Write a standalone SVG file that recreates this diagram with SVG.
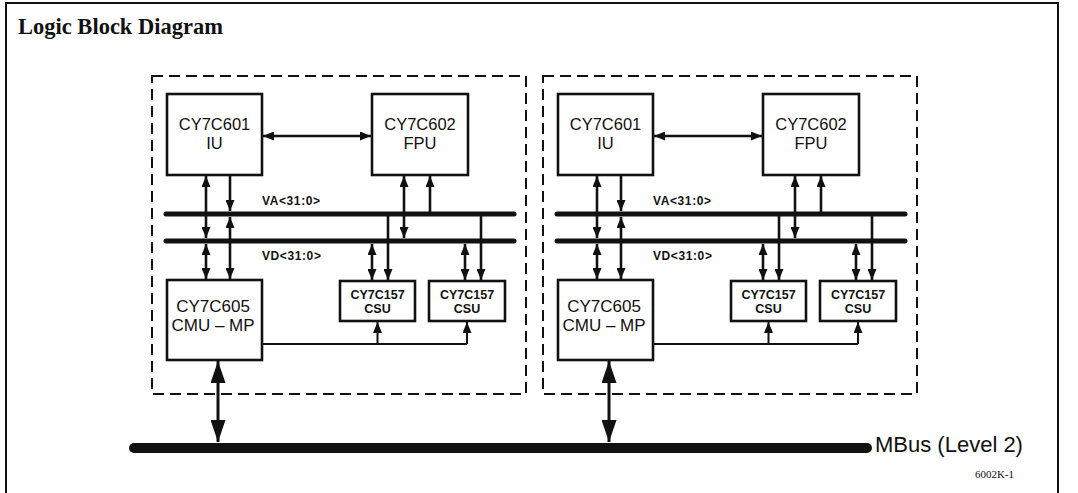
<svg xmlns="http://www.w3.org/2000/svg" width="1078" height="493" viewBox="0 0 1078 493">
<style>
.frame{fill:none;stroke:#111;stroke-width:2}
.dash{fill:none;stroke:#111;stroke-width:2;stroke-dasharray:11 6}
.box{fill:#fff;stroke:#111;stroke-width:2.6}
.bus{stroke:#111;stroke-width:5;stroke-linecap:round}
.mbus{stroke:#111;stroke-width:10;stroke-linecap:round}
.ln{stroke:#111;stroke-width:2.6;fill:none}
.thin{stroke:#111;stroke-width:2;fill:none}
.big{stroke:#111;stroke-width:3;fill:none}
.t{font-family:"Liberation Sans",Arial,sans-serif;font-size:16.5px;fill:#111;text-anchor:middle}
.tc{font-family:"Liberation Sans",Arial,sans-serif;font-size:17px;fill:#111;text-anchor:middle}
.ts{font-family:"Liberation Sans",Arial,sans-serif;font-size:12.5px;font-weight:bold;fill:#111;text-anchor:middle}
.tb{font-family:"Liberation Sans",Arial,sans-serif;font-size:12px;font-weight:bold;letter-spacing:0.6px;fill:#111}
.title{font-family:"Liberation Serif","Times New Roman",serif;font-size:22.5px;font-weight:bold;fill:#111}
</style>
<defs>
<marker id="a" markerUnits="userSpaceOnUse" markerWidth="11" markerHeight="9" refX="11" refY="4.5" orient="auto-start-reverse"><path d="M0,0 L11,4.5 L0,9 z" fill="#111"/></marker>
<marker id="b" markerUnits="userSpaceOnUse" markerWidth="22" markerHeight="15" refX="22" refY="7.5" orient="auto-start-reverse"><path d="M0,0 L22,7.5 L0,15 z" fill="#111"/></marker>
</defs>
<rect class="frame" x="6" y="3" width="1052" height="500"/>
<text class="title" x="18" y="34">Logic Block Diagram</text>

<g id="mbus">
<line class="mbus" x1="134" y1="448" x2="867" y2="448"/>
<text x="875" y="452" font-family="'Liberation Sans',Arial,sans-serif" font-size="22" fill="#111">MBus (Level 2)</text>
</g>
<text x="1014" y="478" text-anchor="end" font-family="'Liberation Serif','Times New Roman',serif" font-size="11" fill="#111">6002K-1</text>

<g id="module1">
<rect class="dash" x="152" y="76" width="374" height="318"/>
<g id="bus-va-1"><line class="bus" x1="166" y1="214" x2="514" y2="214"/><text class="tb" x="262" y="205">VA&lt;31:0&gt;</text></g>
<g id="bus-vd-1"><line class="bus" x1="166" y1="241" x2="514" y2="241"/><text class="tb" x="262" y="260">VD&lt;31:0&gt;</text></g>
<g id="iu-1"><rect class="box" x="167" y="94" width="95" height="81"/><text class="t" x="214.5" y="130">CY7C601</text><text class="t" x="214.5" y="149">IU</text></g>
<g id="fpu-1"><rect class="box" x="372" y="94" width="96" height="81"/><text class="t" x="420" y="130">CY7C602</text><text class="t" x="420" y="149">FPU</text></g>
<g id="cmu-1"><rect class="box" x="167" y="280" width="95" height="80"/><text class="tc" x="213" y="312">CY7C605</text><text class="tc" x="213" y="331">CMU – MP</text></g>
<g id="csu-1a"><rect class="box" x="340" y="281" width="75" height="40"/><text class="ts" x="377.5" y="299">CY7C157</text><text class="ts" x="377.5" y="313">CSU</text></g>
<g id="csu-1b"><rect class="box" x="429" y="281" width="76" height="40"/><text class="ts" x="467" y="299">CY7C157</text><text class="ts" x="467" y="313">CSU</text></g>
<g id="connectors-1">
<line class="ln" x1="263" y1="136" x2="371" y2="136" marker-start="url(#a)" marker-end="url(#a)"/>
<line class="ln" x1="206" y1="176" x2="206" y2="238" marker-start="url(#a)" marker-end="url(#a)"/>
<line class="ln" x1="206" y1="244" x2="206" y2="279" marker-start="url(#a)" marker-end="url(#a)"/>
<line class="ln" x1="230" y1="176" x2="230" y2="211" marker-end="url(#a)"/>
<line class="ln" x1="230" y1="217" x2="230" y2="279" marker-start="url(#a)" marker-end="url(#a)"/>
<line class="ln" x1="404" y1="176" x2="404" y2="238" marker-start="url(#a)" marker-end="url(#a)"/>
<line class="ln" x1="430" y1="212" x2="430" y2="176" marker-end="url(#a)"/>
<line class="ln" x1="372" y1="244" x2="372" y2="280" marker-start="url(#a)" marker-end="url(#a)"/>
<line class="ln" x1="388" y1="216" x2="388" y2="280" marker-end="url(#a)"/>
<line class="ln" x1="465" y1="244" x2="465" y2="280" marker-start="url(#a)" marker-end="url(#a)"/>
<line class="ln" x1="481" y1="216" x2="481" y2="280" marker-end="url(#a)"/>
<polyline class="thin" points="263,344 467,344"/>
<line class="thin" x1="377.5" y1="344" x2="377.5" y2="322" marker-end="url(#a)"/>
<line class="thin" x1="467" y1="344" x2="467" y2="322" marker-end="url(#a)"/>
<line class="big" x1="218" y1="361" x2="218" y2="442" marker-start="url(#b)" marker-end="url(#b)"/>
</g>
</g>

<g id="module2" transform="translate(391,0)">
<rect class="dash" x="152" y="76" width="374" height="318"/>
<g id="bus-va-2"><line class="bus" x1="166" y1="214" x2="514" y2="214"/><text class="tb" x="262" y="205">VA&lt;31:0&gt;</text></g>
<g id="bus-vd-2"><line class="bus" x1="166" y1="241" x2="514" y2="241"/><text class="tb" x="262" y="260">VD&lt;31:0&gt;</text></g>
<g id="iu-2"><rect class="box" x="167" y="94" width="95" height="81"/><text class="t" x="214.5" y="130">CY7C601</text><text class="t" x="214.5" y="149">IU</text></g>
<g id="fpu-2"><rect class="box" x="372" y="94" width="96" height="81"/><text class="t" x="420" y="130">CY7C602</text><text class="t" x="420" y="149">FPU</text></g>
<g id="cmu-2"><rect class="box" x="167" y="280" width="95" height="80"/><text class="tc" x="213" y="312">CY7C605</text><text class="tc" x="213" y="331">CMU – MP</text></g>
<g id="csu-2a"><rect class="box" x="340" y="281" width="75" height="40"/><text class="ts" x="377.5" y="299">CY7C157</text><text class="ts" x="377.5" y="313">CSU</text></g>
<g id="csu-2b"><rect class="box" x="429" y="281" width="76" height="40"/><text class="ts" x="467" y="299">CY7C157</text><text class="ts" x="467" y="313">CSU</text></g>
<g id="connectors-2">
<line class="ln" x1="263" y1="136" x2="371" y2="136" marker-start="url(#a)" marker-end="url(#a)"/>
<line class="ln" x1="206" y1="176" x2="206" y2="238" marker-start="url(#a)" marker-end="url(#a)"/>
<line class="ln" x1="206" y1="244" x2="206" y2="279" marker-start="url(#a)" marker-end="url(#a)"/>
<line class="ln" x1="230" y1="176" x2="230" y2="211" marker-end="url(#a)"/>
<line class="ln" x1="230" y1="217" x2="230" y2="279" marker-start="url(#a)" marker-end="url(#a)"/>
<line class="ln" x1="404" y1="176" x2="404" y2="238" marker-start="url(#a)" marker-end="url(#a)"/>
<line class="ln" x1="430" y1="212" x2="430" y2="176" marker-end="url(#a)"/>
<line class="ln" x1="372" y1="244" x2="372" y2="280" marker-start="url(#a)" marker-end="url(#a)"/>
<line class="ln" x1="388" y1="216" x2="388" y2="280" marker-end="url(#a)"/>
<line class="ln" x1="465" y1="244" x2="465" y2="280" marker-start="url(#a)" marker-end="url(#a)"/>
<line class="ln" x1="481" y1="216" x2="481" y2="280" marker-end="url(#a)"/>
<polyline class="thin" points="263,344 467,344"/>
<line class="thin" x1="377.5" y1="344" x2="377.5" y2="322" marker-end="url(#a)"/>
<line class="thin" x1="467" y1="344" x2="467" y2="322" marker-end="url(#a)"/>
<line class="big" x1="218" y1="361" x2="218" y2="442" marker-start="url(#b)" marker-end="url(#b)"/>
</g>
</g>
</svg>
